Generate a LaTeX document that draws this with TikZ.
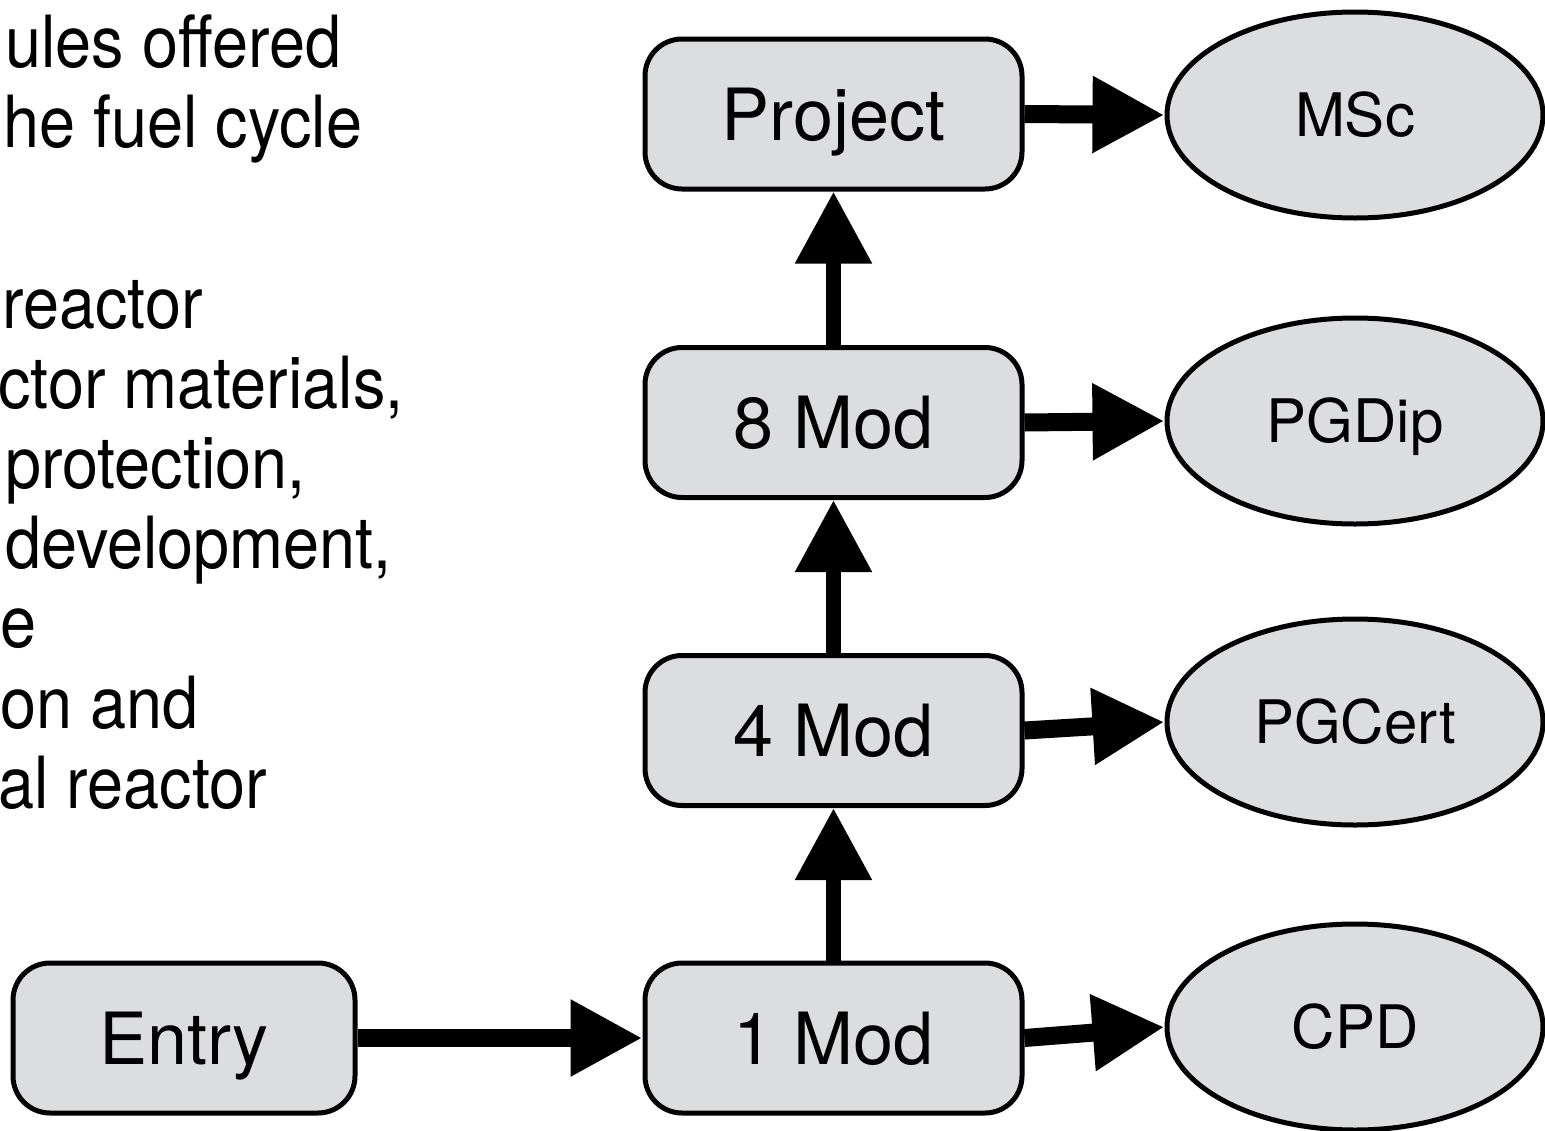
\documentclass[tikz,border=0pt]{standalone}
\usepackage{fontspec}
\setmainfont{TeX Gyre Heros}
\newfontfamily\narrowheros[FakeStretch=0.9]{TeX Gyre Heros}
\usetikzlibrary{arrows.meta,shapes.geometric}
\definecolor{boxfill}{RGB}{220,221,223}
\tikzset{
  stage/.style={draw=black, line width=5pt, fill=boxfill, rectangle, rounded corners=37pt,
    minimum width=377pt, minimum height=150pt, inner sep=0pt,
    font=\fontsize{72}{80}\selectfont, text height=52pt, text depth=0pt},
  award/.style={draw=black, line width=5pt, fill=boxfill, ellipse,
    minimum width=376pt, minimum height=206pt, inner sep=0pt,
    font=\fontsize{60}{70}\selectfont, text height=43pt, text depth=0pt},
  sidetext/.style={anchor=base west, inner sep=0pt, font=\narrowheros\fontsize{72}{80}\selectfont},
  harrow/.style={line width=18pt, -{Triangle[length=72pt,width=72pt]}},
  varrow/.style={line width=15pt, -{Triangle[length=72pt,width=73pt]}},
}
\begin{document}
\begin{tikzpicture}[x=1pt,y=-1pt]
\useasboundingbox (0,0) rectangle (1545,1130);
% side text (cut off at the left edge)
\node[sidetext] (t1) at (5,67) {ules offered};
\node[sidetext] (t2) at (3,147) {he fuel cycle};
\node[sidetext] (t3) at (2,328) {reactor};
\node[sidetext] (t4) at (-2,408) {ctor materials,};
\node[sidetext] (t5) at (5,488) {protection,};
\node[sidetext] (t6) at (5,568) {development,};
\node[sidetext] (t7) at (0,647) {e};
\node[sidetext] (t8) at (0,728) {on and};
\node[sidetext] (t9) at (-2,808) {al reactor};
% stages
\node[stage] (proj) at (833.5,114) {Project};
\node[stage] (m8) at (833.5,422.5) {8 Mod};
\node[stage] (m4) at (833.5,730.5) {4 Mod};
\node[stage] (m1) at (833.5,1038) {1 Mod};
\node[stage, minimum width=342pt] (entry) at (184,1038) {Entry};
% awards
\node[award] (msc) at (1355,115) {MSc};
\node[award] (pgdip) at (1355,421) {PGDip};
\node[award] (pgcert) at (1355,722) {PGCert};
\node[award] (cpd) at (1355,1027) {CPD};
% connectors
\draw[harrow] (entry.east) -- (m1.west);
\draw[varrow] (m1.north) -- (m4.south);
\draw[varrow] (m4.north) -- (m8.south);
\draw[varrow] (m8.north) -- (proj.south);
\draw[harrow] (proj.east) -- (msc.west);
\draw[harrow] (m8.east) -- (pgdip.west);
\draw[harrow] (m4.east) -- (pgcert.west);
\draw[harrow] (m1.east) -- (cpd.west);
\end{tikzpicture}
\end{document}
